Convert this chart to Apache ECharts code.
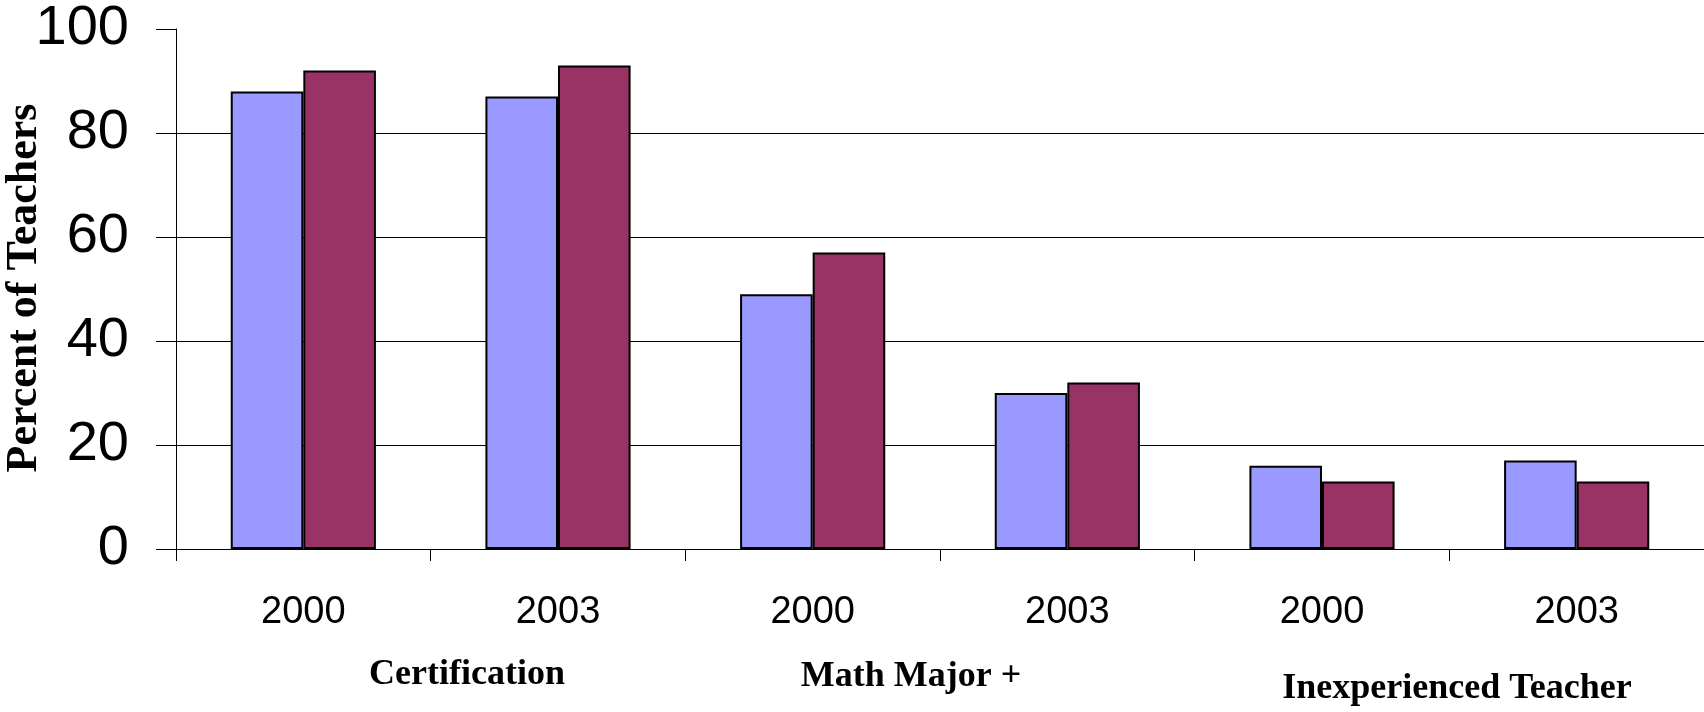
<!DOCTYPE html>
<html>
<head>
<meta charset="utf-8">
<script src="https://cdn.jsdelivr.net/npm/echarts@6/dist/echarts.min.js"></script>
<style>
  html, body { margin: 0; padding: 0; background: #ffffff; }
  #chart { width: 1704px; height: 712px; }
</style>
</head>
<body>
<div id="chart"></div>
<script>
// Survey years shown under each bar pair
const years = ['2000', '2003', '2000', '2003', '2000', '2003'];
// Percent of teachers, light (blue) and dark (plum) bars
const lightBars = [88, 87, 49, 30, 16, 17];
const darkBars = [92, 93, 57, 32, 13, 13];
// Value-axis ticks
const yMin = 0, yMax = 100, yStep = 20;
// Group captions under the year labels
const groupTitles = ['Certification', 'Math Major +', 'Inexperienced Teacher'];
const yTitle = 'Percent of Teachers';

const sans = '"Liberation Sans", Arial, sans-serif';
const serif = '"Liberation Serif", "Times New Roman", serif';

const chart = echarts.init(document.getElementById('chart'), null, { renderer: 'canvas' });

const barStyle = (fill) => ({ color: fill, borderColor: '#000000', borderWidth: 2 });

const caption = (text, x, y, size, rotation) => ({
  type: 'text', x: x, y: y, rotation: rotation || 0,
  style: { text: text, font: 'bold ' + size + 'px ' + serif, fill: '#000000',
           align: 'center', verticalAlign: 'middle', textAlign: 'center', textVerticalAlign: 'middle' }
});

chart.setOption({
  animation: false,
  backgroundColor: '#ffffff',
  grid: { left: 176, top: 29, width: 1533, height: 520, containLabel: false },
  xAxis: {
    type: 'category',
    data: years,
    axisLine: { show: true, lineStyle: { color: '#000000', width: 1 } },
    axisTick: { show: true, length: 12, lineStyle: { color: '#000000', width: 1 } },
    axisLabel: { color: '#000000', fontFamily: sans, fontSize: 38, margin: 45 },
    splitLine: { show: false }
  },
  yAxis: {
    type: 'value',
    min: yMin, max: yMax, interval: yStep,
    axisLine: { show: true, lineStyle: { color: '#000000', width: 1 } },
    axisTick: { show: true, length: 20, lineStyle: { color: '#000000', width: 1 } },
    axisLabel: { color: '#000000', fontFamily: sans, fontSize: 56, margin: 47, padding: [10, 0, 0, 0] },
    splitLine: { show: true, showMaxLine: false, lineStyle: { color: '#000000', width: 1 } }
  },
  series: [
    { type: 'bar', name: 'light', data: lightBars, barGap: '0%', barCategoryGap: '43%', itemStyle: barStyle('#9999ff') },
    { type: 'bar', name: 'dark', data: darkBars, barGap: '0%', barCategoryGap: '43%', itemStyle: barStyle('#993366') }
  ],
  graphic: [
    caption(yTitle, 25, 288, 44, Math.PI / 2),
    caption(groupTitles[0], 467, 675, 36),
    caption(groupTitles[1], 911, 677, 36),
    caption(groupTitles[2], 1457, 689, 36)
  ]
});
</script>
</body>
</html>
